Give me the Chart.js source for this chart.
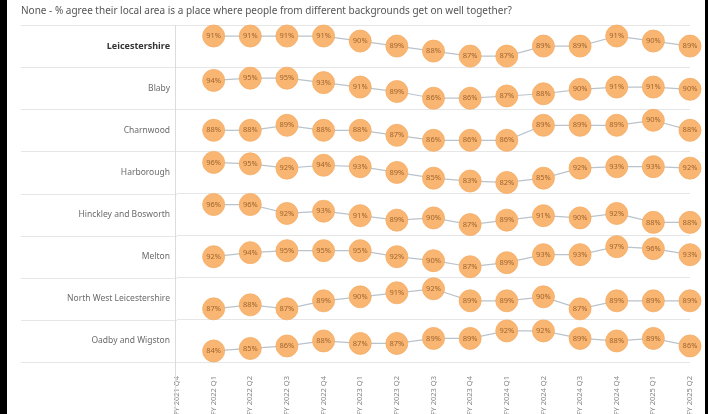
<!DOCTYPE html>
<html>
<head>
<meta charset="utf-8">
<title>Community cohesion by district</title>
<script src="https://cdn.jsdelivr.net/npm/chart.js@4.4.1/dist/chart.umd.min.js"></script>
<style>
    html, body { margin: 0; padding: 0; background: #000; overflow: hidden; }
    #wrap { position: absolute; left: 7px; top: 0; width: 698px; height: 414px; background: #fff; }
</style>
</head>
<body>
<div id="wrap"><canvas id="cohesion-chart"></canvas></div>
<script>
// Quarters along the bottom (FY 2021 Q4 has no survey results)
const quarters = ['FY 2021 Q4', 'FY 2022 Q1', 'FY 2022 Q2', 'FY 2022 Q3', 'FY 2022 Q4',
    'FY 2023 Q1', 'FY 2023 Q2', 'FY 2023 Q3', 'FY 2023 Q4', 'FY 2024 Q1',
    'FY 2024 Q2', 'FY 2024 Q3', 'FY 2024 Q4', 'FY 2025 Q1', 'FY 2025 Q2'];

const areas = ['Leicestershire', 'Blaby', 'Charnwood', 'Harborough', 'Hinckley and Bosworth',
    'Melton', 'North West Leicestershire', 'Oadby and Wigston'];

// % agree, one array per area
const leicestershire = [null, 91, 91, 91, 91, 90, 89, 88, 87, 87, 89, 89, 91, 90, 89];
const blaby = [null, 94, 95, 95, 93, 91, 89, 86, 86, 87, 88, 90, 91, 91, 90];
const charnwood = [null, 88, 88, 89, 88, 88, 87, 86, 86, 86, 89, 89, 89, 90, 88];
const harborough = [null, 96, 95, 92, 94, 93, 89, 85, 83, 82, 85, 92, 93, 93, 92];
const hinckleyBosworth = [null, 96, 96, 92, 93, 91, 89, 90, 87, 89, 91, 90, 92, 88, 88];
const melton = [null, 92, 94, 95, 95, 95, 92, 90, 87, 89, 93, 93, 97, 96, 93];
const northWestLeics = [null, 87, 88, 87, 89, 90, 91, 92, 89, 89, 90, 87, 89, 89, 89];
const oadbyWigston = [null, 84, 85, 86, 88, 87, 87, 89, 89, 92, 92, 89, 88, 89, 86];

const series = [leicestershire, blaby, charnwood, harborough, hinckleyBosworth,
    melton, northWestLeics, oadbyWigston];

const FONT = "'Noto Sans', 'DejaVu Sans', sans-serif";

const scales = {
    x: {
        type: 'category',
        labels: quarters,
        offset: false,
        grid: { display: false },
        border: { display: false },
        ticks: {
            autoSkip: false,
            minRotation: 90,
            maxRotation: 90,
            padding: 6,
            color: '#8a8a8a',
            font: { family: FONT, size: 7.5 }
        },
        afterFit: scale => { scale.height = 52; }
    },
    rows: {
        axis: 'y',
        type: 'category',
        labels: areas,
        position: 'left',
        offset: true,
        grid: { offset: true, color: '#e6e6e6', drawTicks: false },
        border: { display: false },
        ticks: {
            padding: 7,
            color: ctx => ctx.index === 0 ? '#333' : '#6b6b6b',
            font: ctx => ({ family: FONT, size: ctx.index === 0 ? 9 : 8.5, weight: ctx.index === 0 ? 'bold' : 'normal' })
        },
        afterFit: scale => { scale.width = 156; }
    }
};

// One independent value axis per row, stacked top to bottom.
// Left-side boxes are laid out in reverse, so add the last row first.
for (let i = series.length - 1; i >= 0; i--) {
    const nums = series[i].filter(v => v !== null);
    const lo = Math.min(...nums);
    const hi = Math.max(...nums);
    const pad = Math.max(2.2, (hi - lo) * 0.55);
    scales['y' + i] = {
        type: 'linear',
        position: 'left',
        stack: 'rows',
        stackWeight: 1,
        display: false,
        min: lo - pad,
        max: hi + pad
    };
}

// Divider lines across the label column and the vertical separator
const dividers = {
    id: 'dividers',
    beforeDatasetsDraw(chart) {
        const { ctx, chartArea } = chart;
        const rows = chart.scales.rows;
        ctx.save();
        ctx.strokeStyle = '#e6e6e6';
        ctx.lineWidth = 1;
        for (let i = 0; i <= areas.length; i++) {
            const y = Math.round(rows.top + i * (rows.bottom - rows.top) / areas.length) + 0.5;
            ctx.beginPath();
            ctx.moveTo(14, y);
            ctx.lineTo(chartArea.left, y);
            ctx.stroke();
        }
        ctx.strokeStyle = '#dcdcdc';
        const x = Math.round(chartArea.left) - 1.5;
        ctx.beginPath();
        ctx.moveTo(x, chartArea.top);
        ctx.lineTo(x, chart.height);
        ctx.stroke();
        ctx.restore();
    }
};

// Percentage written inside each circle
const pointLabels = {
    id: 'pointLabels',
    afterDatasetsDraw(chart) {
        const ctx = chart.ctx;
        ctx.save();
        ctx.font = `7.5px ${FONT}`;
        ctx.fillStyle = '#a0652e';
        ctx.textAlign = 'center';
        ctx.textBaseline = 'middle';
        chart.data.datasets.forEach((ds, i) => {
            chart.getDatasetMeta(i).data.forEach((pt, j) => {
                const v = ds.data[j];
                if (v === null || v === undefined) return;
                ctx.fillText(v + '%', pt.x, pt.y);
            });
        });
        ctx.restore();
    }
};

new Chart(document.getElementById('cohesion-chart'), {
    type: 'line',
    data: {
        labels: quarters,
        datasets: series.map((vals, i) => ({
            label: areas[i],
            data: vals,
            xAxisID: 'x',
            yAxisID: 'y' + i,
            borderColor: '#b9c3cb',
            borderWidth: 1.2,
            tension: 0,
            pointRadius: 11,
            pointHoverRadius: 11,
            pointBackgroundColor: '#f9b673',
            pointBorderColor: '#f5ac64',
            pointBorderWidth: 0.8,
            clip: false
        }))
    },
    options: {
        responsive: true,
        maintainAspectRatio: false,
        animation: false,
        layout: { padding: { left: 14, right: 6, top: 0, bottom: 0 } },
        plugins: {
            legend: { display: false },
            tooltip: { enabled: false },
            title: {
                display: true,
                text: 'None - % agree their local area is a place where people from different backgrounds get on well together?',
                align: 'start',
                color: '#555',
                font: { family: FONT, size: 10, weight: 'normal' },
                padding: { top: 5, bottom: 8 }
            }
        },
        scales: scales
    },
    plugins: [dividers, pointLabels]
});
</script>
</body>
</html>
